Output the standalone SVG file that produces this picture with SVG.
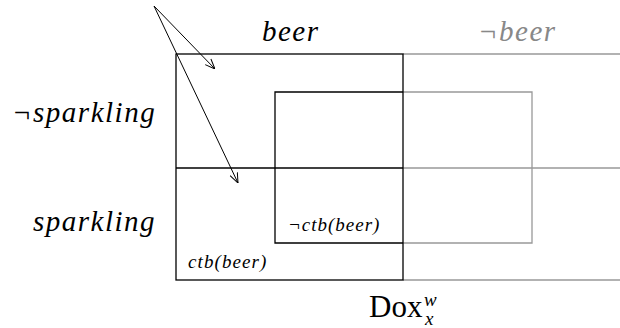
<svg xmlns="http://www.w3.org/2000/svg" width="620" height="328" viewBox="0 0 620 328">
<defs>
<style>
.k{fill:none;stroke:#000;stroke-width:1.3}
.g{fill:none;stroke:#999;stroke-width:1.3}
.it{font-family:"Liberation Serif","Times New Roman",serif;font-style:italic}
.up{font-family:"Liberation Serif","Times New Roman",serif}
.a{fill:none;stroke:#000;stroke-width:1}
</style>
<marker id="ah" viewBox="0 0 10 10" refX="10" refY="5" markerWidth="10" markerHeight="10" markerUnits="userSpaceOnUse" orient="auto">
<path d="M0,1 L10,5 L0,9" fill="none" stroke="#000" stroke-width="1"/>
</marker>
</defs>
<rect width="620" height="328" fill="#fff"/>
<g id="grid-gray">
<path class="g" d="M403,54 H620 M403,168 H620 M403,280 H620"/>
<path class="g" d="M403,92 H532 V243 H403"/>
</g>
<g id="beer-region">
<rect class="k" x="176" y="54" width="227" height="226"/>
<path class="k" d="M176,168 H403"/>
</g>
<g id="inner-box">
<path class="k" d="M403,92 H275 V243 H403"/>
</g>
<g id="labels">
<text class="it" x="262" y="41" font-size="29" fill="#000" letter-spacing="1.5">beer</text>
<text class="it" x="478" y="41" font-size="29" fill="#888" letter-spacing="1.5">¬beer</text>
<text class="it" x="12" y="122" font-size="29" fill="#000" letter-spacing="1.5">¬sparkling</text>
<text class="it" x="33" y="231" font-size="29" fill="#000" letter-spacing="1.5">sparkling</text>
<text class="it" x="288" y="231" font-size="19" fill="#000" letter-spacing="1">¬ctb(beer)</text>
<text class="it" x="188" y="268" font-size="19" fill="#000" letter-spacing="1.1">ctb(beer)</text>
<text class="up" x="369" y="317" font-size="31" fill="#000">Dox</text>
<text class="it" x="424" y="306" font-size="19" fill="#000">w</text>
<text class="it" x="425" y="325" font-size="19" fill="#000">x</text>
</g>
<g id="connectors">
<line class="a" x1="154" y1="6" x2="215" y2="69" marker-end="url(#ah)"/>
<line class="a" x1="154" y1="6" x2="238" y2="183" marker-end="url(#ah)"/>
</g>
</svg>
